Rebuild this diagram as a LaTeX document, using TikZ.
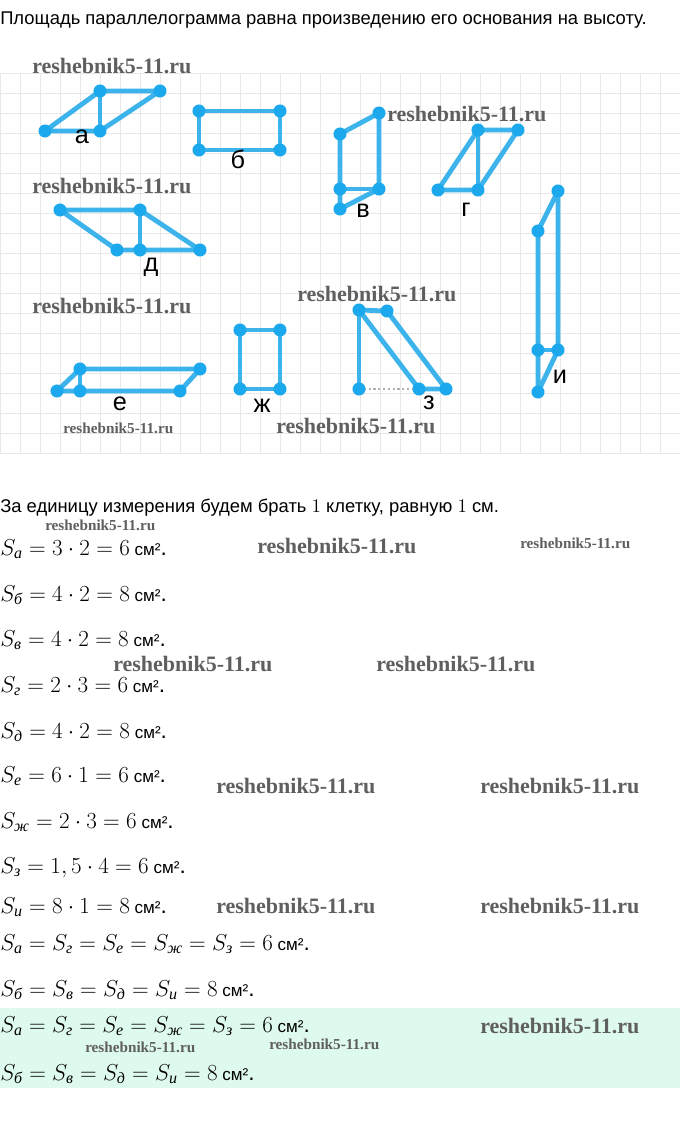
\documentclass[tikz,border=0pt]{standalone}
\usepackage[no-math]{fontspec}
\setmainfont{Liberation Sans}
\newfontfamily\wmfont{Liberation Serif}
\newfontfamily\cyrit{Liberation Serif}
\definecolor{lblue}{RGB}{60,180,235}
\definecolor{dblue}{RGB}{28,168,236}
\definecolor{gridc}{RGB}{232,232,232}
\definecolor{wmgray}{RGB}{95,95,95}
\definecolor{mint}{RGB}{222,250,236}
\newcommand\sbx[1]{_{\mbox{\fontsize{12}{13}\selectfont\cyrit\itshape #1}}}
\newcommand\cmq{{\fontsize{12.8}{15}\selectfont\ см²}.}
\begin{document}
\begin{tikzpicture}[x=0.75pt,y=-0.75pt,
  edge/.style={line width=3.6pt, draw=lblue, line cap=round, line join=round},
  lbl/.style={font=\fontsize{19}{22}\selectfont, inner sep=0pt},
  wm/.style={anchor=west, text=wmgray, inner sep=0pt, font=\wmfont\bfseries\fontsize{16.5}{18}\selectfont},
  wms/.style={anchor=west, text=wmgray, inner sep=0pt, font=\wmfont\bfseries\fontsize{11.4}{13}\selectfont},
  txt/.style={anchor=base west, inner sep=0pt, font=\fontsize{13.8}{16}\selectfont},
  eq/.style={anchor=base west, inner sep=0pt, font=\fontsize{17}{20}\selectfont}]
\useasboundingbox (0,0) rectangle (680,1121);
\fill[white] (0,0) rectangle (680,1121);
% grid
\foreach \x in {0,20,...,680} \draw[gridc, line width=0.75pt] (\x,73) -- (\x,453);
\foreach \y in {73,93,...,453} \draw[gridc, line width=0.75pt] (0,\y) -- (680,\y);
% header
\node[txt] (head) at (0,24) {Площадь параллелограмма равна произведению его основания на высоту.};
% shape a
\coordinate (a1) at (45,131); \coordinate (a2) at (100,91); \coordinate (a3) at (160,91); \coordinate (a4) at (100,131);
\draw[edge] (a1)--(a2)--(a3)--(a4)--cycle; \draw[edge] (a2)--(a4);
% shape b
\coordinate (b1) at (199,111); \coordinate (b2) at (280,111); \coordinate (b3) at (280,150); \coordinate (b4) at (199,150);
\draw[edge] (b1)--(b2)--(b3)--(b4)--cycle;
% shape v
\coordinate (v1) at (379,113); \coordinate (v2) at (340,134); \coordinate (v3) at (340,189); \coordinate (v4) at (379,189); \coordinate (v5) at (340,209);
\draw[edge] (v2)--(v1)--(v4)--(v5)--cycle; \draw[edge] (v3)--(v4);
% shape g
\coordinate (g1) at (438,190); \coordinate (g2) at (478,190); \coordinate (g3) at (478,130); \coordinate (g4) at (518,130);
\draw[edge] (g1)--(g3)--(g4)--(g2)--cycle; \draw[edge] (g3)--(g2);
% shape d
\coordinate (d1) at (60,210); \coordinate (d2) at (140,210); \coordinate (d3) at (200,250); \coordinate (d4) at (140,250); \coordinate (d5) at (117,250);
\draw[edge] (d1)--(d2)--(d3)--(d5)--cycle; \draw[edge] (d2)--(d4);
% shape e
\coordinate (e1) at (57,391); \coordinate (e2) at (80,369); \coordinate (e3) at (200,369); \coordinate (e4) at (180,391); \coordinate (e5) at (80,391);
\draw[edge] (e1)--(e2)--(e3)--(e4)--cycle; \draw[edge] (e2)--(e5);
% shape zh
\coordinate (z1) at (240,330); \coordinate (z2) at (280,330); \coordinate (z3) at (280,389); \coordinate (z4) at (240,389);
\draw[edge] (z1)--(z2)--(z3)--(z4)--cycle;
% shape z
\coordinate (q1) at (359,310); \coordinate (q2) at (387,311); \coordinate (q3) at (446,389); \coordinate (q4) at (419,389); \coordinate (q5) at (359,389);
\draw[gray!60, line width=1.6pt, dotted] (q5) -- (q4);
\draw[edge] (q1)--(q2)--(q3)--(q4)--cycle; \draw[edge] (q1)--(q5);
% shape i
\coordinate (i1) at (558,191); \coordinate (i2) at (538,231); \coordinate (i3) at (538,350); \coordinate (i4) at (558,350); \coordinate (i5) at (538,392);
\draw[edge] (i2)--(i1)--(i4)--(i5)--cycle; \draw[edge] (i3)--(i4);
% dots
\foreach \p in {a1,a2,a3,a4,b1,b2,b3,b4,v1,v2,v3,v4,v5,g1,g2,g3,g4,d1,d2,d3,d4,d5,e1,e2,e3,e4,e5,z1,z2,z3,z4,q1,q2,q3,q4,q5,i1,i2,i3,i4,i5}
  \fill[dblue] (\p) circle (4.9pt);
% labels
\node[lbl] (la) at (82,137) {а};
\node[lbl] (lb) at (238,159) {б};
\node[lbl] (lv) at (363,211) {в};
\node[lbl] (lg) at (466,210) {г};
\node[lbl] (ld) at (151,267) {д};
\node[lbl] (le) at (120,404) {е};
\node[lbl] (lzh) at (262,406) {ж};
\node[lbl] (lz) at (429,403) {з};
\node[lbl] (li) at (560,377) {и};
% watermarks in grid
\node[wm] (w1) at (32,66) {reshebnik5-11.ru};
\node[wm] (w2) at (387,114) {reshebnik5-11.ru};
\node[wm] (w3) at (32,186) {reshebnik5-11.ru};
\node[wm] (w4) at (32,306) {reshebnik5-11.ru};
\node[wm] (w5) at (297,294) {reshebnik5-11.ru};
\node[wms] (w6) at (63,428) {reshebnik5-11.ru};
\node[wm] (w7) at (276,426) {reshebnik5-11.ru};
% text
\node[txt] (unit) at (0,512) {За единицу измерения будем брать $1$ клетку, равную $1$ см.};
\fill[mint] (0,1008) rectangle (680,1088);
\node[eq] (sa) at (0,555) {$S\sbx{а} = 3\cdot 2 = 6$\cmq};
\node[eq] (sb) at (0,601) {$S\sbx{б} = 4\cdot 2 = 8$\cmq};
\node[eq] (sv) at (0,646) {$S\sbx{в} = 4\cdot 2 = 8$\cmq};
\node[eq] (sg) at (0,692) {$S\sbx{г} = 2\cdot 3 = 6$\cmq};
\node[eq] (sd) at (0,738) {$S\sbx{д} = 4\cdot 2 = 8$\cmq};
\node[eq] (se) at (0,782) {$S\sbx{е} = 6\cdot 1 = 6$\cmq};
\node[eq] (szh) at (0,828) {$S\sbx{ж} = 2\cdot 3 = 6$\cmq};
\node[eq] (sz) at (0,873) {$S\sbx{з} = 1,5\cdot 4 = 6$\cmq};
\node[eq] (si) at (0,913) {$S\sbx{и} = 8\cdot 1 = 8$\cmq};
\node[eq] (s6) at (0,950) {$S\sbx{а} = S\sbx{г} = S\sbx{е} = S\sbx{ж} = S\sbx{з} = 6$\cmq};
\node[eq] (s8) at (0,996) {$S\sbx{б} = S\sbx{в} = S\sbx{д} = S\sbx{и} = 8$\cmq};
\node[eq] (g6) at (0,1032) {$S\sbx{а} = S\sbx{г} = S\sbx{е} = S\sbx{ж} = S\sbx{з} = 6$\cmq};
\node[eq] (g8) at (0,1080) {$S\sbx{б} = S\sbx{в} = S\sbx{д} = S\sbx{и} = 8$\cmq};
% watermarks in text
\node[wms] (t1) at (45,525) {reshebnik5-11.ru};
\node[wm] (t2) at (257,546) {reshebnik5-11.ru};
\node[wms] (t3) at (520,543) {reshebnik5-11.ru};
\node[wm] (t4) at (113,664) {reshebnik5-11.ru};
\node[wm] (t5) at (376,664) {reshebnik5-11.ru};
\node[wm] (t6) at (216,786) {reshebnik5-11.ru};
\node[wm] (t7) at (480,786) {reshebnik5-11.ru};
\node[wm] (t8) at (216,906) {reshebnik5-11.ru};
\node[wm] (t9) at (480,906) {reshebnik5-11.ru};
\node[wm] (t10) at (480,1026) {reshebnik5-11.ru};
\node[wms] (t11) at (85,1047) {reshebnik5-11.ru};
\node[wms] (t12) at (269,1044) {reshebnik5-11.ru};
\end{tikzpicture}
\end{document}
